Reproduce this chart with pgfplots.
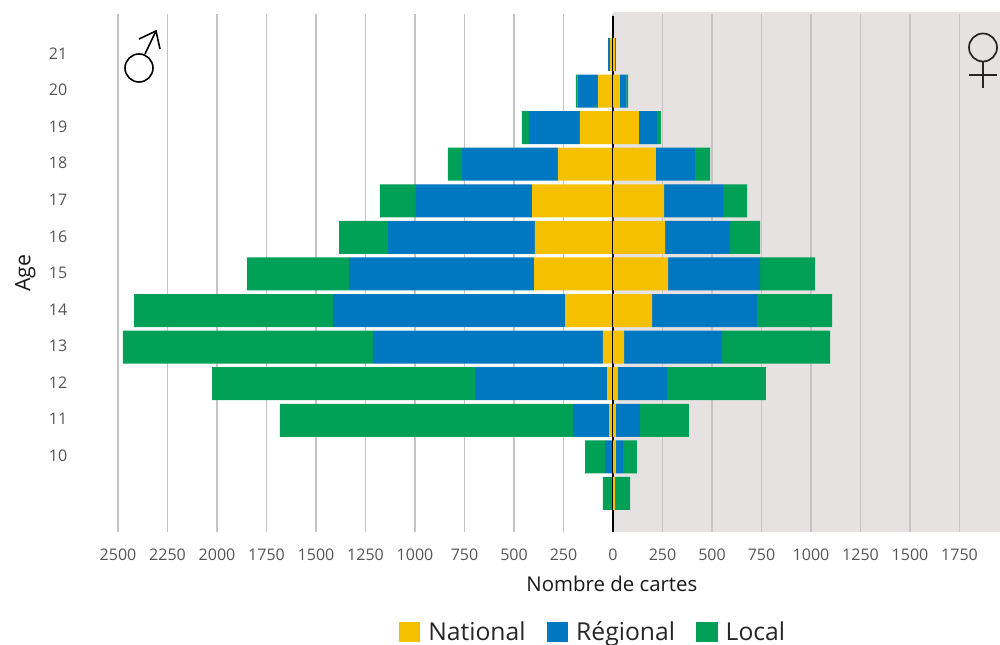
\documentclass[border=0pt]{standalone}
\usepackage{fontspec}
\setmainfont{Open Sans}
\usepackage{pgfplots}
\pgfplotsset{compat=1.18}
\usepackage{pgfplotstable}

\definecolor{cnat}{HTML}{F5C000}
\definecolor{creg}{HTML}{0078C1}
\definecolor{cloc}{HTML}{00A056}
\definecolor{cbg}{HTML}{E5E2E1}
\definecolor{cgrid}{HTML}{C4C4C4}
\definecolor{ctick}{HTML}{555555}

% men, drawn to the left
\pgfplotstableread{
age nat reg loc
9   -5  0    -46
10  -5  -35  -101
11  -20 -182 -1480
12  -30 -667 -1328
13  -51 -1162 -1263
14  -242 -1172 -1005
15  -399 -934 -515
16  -394 -742 -247
17  -409 -586 -182
18  -278 -485 -71
19  -167 -258 -35
20  -76 -104 -8
21  -15 -10 0
}\men

% women, drawn to the right
\pgfplotstableread{
age nat reg loc
9   10  0   76
10  15  35  71
11  15  121 247
12  25  247 500
13  56  495 545
14  197 530 379
15  278 465 278
16  263 328 152
17  258 298 121
18  217 197 76
19  131 91  20
20  35  33  8
21  10  5   0
}\women

\pgfplotsset{
  common/.style={
    at={(88.5pt,84.75pt)},anchor=south west,
    scale only axis,width=661.5pt,height=388.5pt,
    xmin=-2500,xmax=1954.5,ymin=7.946,ymax=22.107,
    xbar stacked,bar width=24.75pt,
  },
}

\begin{document}
\begin{tikzpicture}
\path[use as bounding box] (0,0) rectangle (750pt,483.75pt);
\fill[cbg] (459.75pt,84.75pt) rectangle (750pt,474.75pt);

\begin{axis}[
  common,
  axis line style={draw=none},
  major tick length=0pt,
  xmajorgrids,
  grid style={cgrid,line width=1pt},
  xtick={-2500,-2250,-2000,-1750,-1500,-1250,-1000,-750,-500,-250,0,250,500,750,1000,1250,1500,1750},
  xticklabels={2500,2250,2000,1750,1500,1250,1000,750,500,250,0,250,500,750,1000,1250,1500,1750},
  ytick={10,...,21},
  tick label style={font=\fontsize{12pt}{13pt}\selectfont,text=ctick},
  xticklabel style={yshift=-9pt},
  yticklabel style={xshift=-34.5pt,yshift=0.75pt},
  /pgf/number format/assume math mode=true,
  xlabel={Nombre de cartes},
  xlabel style={font=\fontsize{15.3pt}{17pt}\selectfont,at={(axis description cs:0.56,-0.1)},anchor=center,text=black!90},
  ylabel={Age},
  ylabel style={font=\fontsize{16pt}{17pt}\selectfont,at={(axis description cs:-0.105,0.5)},anchor=center,text=black!90},
  legend columns=3,
  legend style={draw=none,fill=none,at={(axis description cs:0.539,-0.193)},anchor=center,
    font=\fontsize{18.5pt}{20pt}\selectfont,text=black!85,
    /tikz/every odd column/.append style={column sep=4pt},
    /tikz/every even column/.append style={column sep=14pt}},
  legend image code/.code={\fill[#1] (0pt,-7.5pt) rectangle (16pt,7.5pt);},
]
\addplot[draw=none,fill=cnat] table[x=nat,y=age] {\men};
\addplot[draw=none,fill=creg] table[x=reg,y=age] {\men};
\addplot[draw=none,fill=cloc] table[x=loc,y=age] {\men};
\legend{National,Régional,Local}
\end{axis}

\begin{axis}[common,hide axis]
\addplot[draw=none,fill=cnat] table[x=nat,y=age] {\women};
\addplot[draw=none,fill=creg] table[x=reg,y=age] {\women};
\addplot[draw=none,fill=cloc] table[x=loc,y=age] {\women};
\draw[black,line width=1.5pt] (axis cs:0,7.946) -- (axis cs:0,22.05);
\end{axis}

% gender symbols, in reference pixels
\begin{scope}[x=.75pt,y=-.75pt,shift={(0pt,483.75pt)}]
\draw[black,line width=1.2pt] (139,68) circle[radius=14];
\draw[black,line width=1.2pt] (145,54) -- (156,31);
\draw[black,line width=1.2pt] (139,39) -- (156,31) -- (160,49);
\draw[black!85,line width=1.3pt] (983,47.5) circle[radius=14];
\draw[black!85,line width=1.5pt] (983,61.5) -- (983,88);
\draw[black!85,line width=1.2pt] (969,75) -- (997,75);
\end{scope}
\end{tikzpicture}
\end{document}
